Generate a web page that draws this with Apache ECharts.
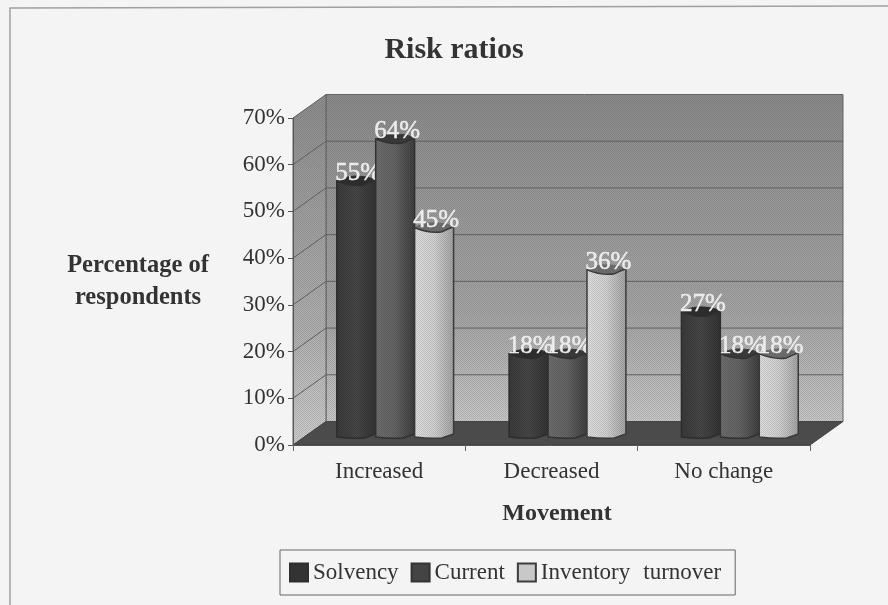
<!DOCTYPE html>
<html>
<head>
<meta charset="utf-8">
<style>
  html, body { margin: 0; padding: 0; background: #f4f4f4; }
  #chart { width: 888px; height: 605px; }
</style>
<script src="https://cdn.jsdelivr.net/npm/echarts@6/dist/echarts.min.js"></script>
</head>
<body>
<div id="chart"></div>
<script>
// Survey results: movement in risk ratios, drawn as a pseudo-3D column chart.
const categories = ['Increased', 'Decreased', 'No change'];
const solvency = [55, 18, 27];
const current = [64, 18, 18];
const inventoryTurnover = [45, 36, 18];
const yTicks = [0, 10, 20, 30, 40, 50, 60, 70];

const FONT = '"Liberation Serif", serif';
const INK = '#333333';
const DEPTH_X = 33;        // how far the back wall sits behind the axis plane
const DEPTH_Y = -23.5;
const BAR_SHIFT_X = 16;    // columns stand part-way into the floor
const BAR_SHIFT_Y = -7;
const BAR_BAND = 0.226;    // column width as a share of the category band

// Fine halftone used over the walls and columns.
function halftone(alpha) {
  const c = document.createElement('canvas');
  c.width = c.height = 2;
  const g = c.getContext('2d');
  g.fillStyle = 'rgba(0,0,0,' + alpha + ')';
  g.fillRect(0, 0, 1, 1);
  g.fillRect(1, 1, 1, 1);
  return c;
}
const dither = { image: halftone(0.12), repeat: 'repeat' };

function vertical(stops) {
  return { type: 'linear', x: 0, y: 0, x2: 0, y2: 1,
    colorStops: stops.map((color, i) => ({ offset: i / (stops.length - 1), color })) };
}
function horizontal(stops) {
  return { type: 'linear', x: 0, y: 0, x2: 1, y2: 0,
    colorStops: stops.map((color, i) => ({ offset: i / (stops.length - 1), color })) };
}

// Back wall, side wall, floor and the gridlines that wrap around them.
function renderWalls(params, api) {
  const cs = params.coordSys;
  const xL = cs.x, xR = cs.x + cs.width;
  const y0 = api.coord([0, yTicks[0]])[1];
  const yT = api.coord([0, yTicks[yTicks.length - 1]])[1];
  const back = [[xL + DEPTH_X, yT + DEPTH_Y], [xR + DEPTH_X, yT + DEPTH_Y], [xR + DEPTH_X, y0 + DEPTH_Y], [xL + DEPTH_X, y0 + DEPTH_Y]];
  const side = [[xL, yT], [xL + DEPTH_X, yT + DEPTH_Y], [xL + DEPTH_X, y0 + DEPTH_Y], [xL, y0]];
  const floor = [[xL, y0], [xL + DEPTH_X, y0 + DEPTH_Y], [xR + DEPTH_X, y0 + DEPTH_Y], [xR, y0]];
  const children = [
    { type: 'polygon', shape: { points: back }, style: { fill: vertical(['#8c8c8c', '#9a9a9a', '#a6a6a6', '#c8c8c8']), stroke: '#666', lineWidth: 1 } },
    { type: 'polygon', shape: { points: back }, style: { fill: dither } },
    { type: 'polygon', shape: { points: side }, style: { fill: vertical(['#8e8e8e', '#a0a0a0', '#b0b0b0', '#cecece']), stroke: '#666', lineWidth: 1 } },
    { type: 'polygon', shape: { points: side }, style: { fill: dither } }
  ];
  yTicks.forEach((t) => {
    const y = api.coord([0, t])[1];
    if (t > yTicks[0] && t < yTicks[yTicks.length - 1]) {
      children.push({ type: 'polyline',
        shape: { points: [[xL, y], [xL + DEPTH_X, y + DEPTH_Y], [xR + DEPTH_X, y + DEPTH_Y]] },
        style: { fill: null, stroke: '#5e5e5e', lineWidth: 1 } });
    }
  });
  children.push({ type: 'polygon', shape: { points: floor }, style: { fill: '#4b4b4b', stroke: '#444', lineWidth: 1 } });
  return { type: 'group', children };
}

// One column: rounded body, darker elliptical cap and the value above it.
function columnRenderer(index, body, capColor, edge) {
  return function (params, api) {
    const cat = api.value(0), val = api.value(1);
    const bw = api.size([1, 0])[0] * BAR_BAND;
    const c = api.coord([cat, val]);
    const base = api.coord([cat, 0]);
    const x0 = c[0] + BAR_SHIFT_X + (index - 1.5) * bw;
    const x1 = x0 + bw;
    const top = c[1] + BAR_SHIFT_Y;
    const bot = base[1] + BAR_SHIFT_Y;
    const a = x0 + 0.4 * bw, b = x0 + 0.7 * bw, d = x0 + 0.86 * bw;
    const outline =
      'M' + x0 + ' ' + top +
      'Q' + a + ' ' + (top + 6) + ' ' + b + ' ' + (top + 4) +
      'Q' + d + ' ' + (top + 1) + ' ' + x1 + ' ' + (top - 1) +
      'L' + x1 + ' ' + (bot - 4) +
      'Q' + d + ' ' + (bot - 2) + ' ' + b + ' ' + bot +
      'Q' + a + ' ' + (bot + 1) + ' ' + x0 + ' ' + (bot - 1) + 'Z';
    const cap =
      'M' + x0 + ' ' + top +
      'Q' + a + ' ' + (top + 6) + ' ' + b + ' ' + (top + 4) +
      'Q' + d + ' ' + (top + 1) + ' ' + x1 + ' ' + (top - 1) +
      'Q' + (x0 + 0.8 * bw) + ' ' + (top - 5) + ' ' + (x0 + 0.45 * bw) + ' ' + (top - 5) +
      'Q' + (x0 + 0.15 * bw) + ' ' + (top - 4) + ' ' + x0 + ' ' + top + 'Z';
    return { type: 'group', children: [
      { type: 'path', shape: { pathData: cap }, style: { fill: capColor, stroke: capColor, lineWidth: 1 } },
      { type: 'path', shape: { pathData: outline }, style: { fill: horizontal(body), stroke: edge, lineWidth: 1.5 } },
      { type: 'path', shape: { pathData: outline }, style: { fill: dither } },
      { type: 'text', z2: 50, style: {
          text: val + '%', x: (x0 + x1) / 2 + 2, y: top + 5,
          align: 'center', verticalAlign: 'bottom',
          font: '25px ' + FONT, fill: '#ececec', stroke: '#ececec', lineWidth: 0.5 } }
    ] };
  };
}

function columnSeries(name, values, index, swatch, body, capColor, edge) {
  return {
    name, type: 'custom', coordinateSystem: 'cartesian2d', clip: false, z: 3 + index,
    encode: { x: 0, y: 1 },
    itemStyle: { color: swatch, borderColor: edge, borderWidth: 1.5 },
    data: values.map((v, i) => [i, v]),
    renderItem: columnRenderer(index, body, capColor, edge)
  };
}

const chart = echarts.init(document.getElementById('chart'), null, { renderer: 'canvas' });
chart.setOption({
  animation: false,
  backgroundColor: '#f4f4f4',
  title: {
    text: 'Risk ratios', left: 449, top: 30, textAlign: 'center',
    textStyle: { fontFamily: FONT, fontWeight: 'bold', fontSize: 30, color: INK }
  },
  graphic: [{
    type: 'polyline', silent: true,
    shape: { points: [[10, 605], [10, 8], [888, 6]] },
    style: { fill: null, stroke: '#a0a0a0', lineWidth: 1.5 }
  }],
  grid: { left: 293, top: 118, width: 517, height: 327 },
  legend: {
    data: ['Solvency', 'Current', 'Inventory turnover'],
    left: 280, top: 550, orient: 'horizontal',
    padding: [11, 14, 11, 9], itemGap: 12, itemWidth: 18, itemHeight: 18,
    icon: 'rect', borderColor: '#666', borderWidth: 1,
    selectedMode: false,
    formatter: (name) => {
      const parts = name.split(' ');
      return parts.length > 1 ? '{t|' + parts[0] + '}{g| }{t|' + parts[1] + '}' : name;
    },
    textStyle: {
      fontFamily: FONT, fontSize: 23, color: INK,
      rich: {
        t: { fontFamily: FONT, fontSize: 23, color: INK },
        g: { fontFamily: FONT, fontSize: 23, width: 13 }
      }
    }
  },
  xAxis: {
    type: 'category', data: categories, z: 6,
    name: 'Movement', nameLocation: 'middle', nameGap: 57,
    nameTextStyle: { fontFamily: FONT, fontWeight: 'bold', fontSize: 24, color: INK, padding: [0, 0, 0, 11] },
    axisLine: { lineStyle: { color: '#555', width: 1 } },
    axisTick: { show: true, length: 6, alignWithLabel: false, lineStyle: { color: '#666' } },
    axisLabel: { fontFamily: FONT, fontSize: 23, color: INK, margin: 15 },
    splitLine: { show: false }
  },
  yAxis: {
    type: 'value', min: 0, max: 70, interval: 10, z: 6,
    name: 'Percentage of\nrespondents', nameLocation: 'middle', nameRotate: 0, nameGap: 155,
    nameMoveOverlap: false,
    nameTextStyle: { fontFamily: FONT, fontWeight: 'bold', fontSize: 24.5, color: INK, align: 'center', lineHeight: 32 },
    axisLine: { show: true, lineStyle: { color: '#555', width: 1 } },
    axisTick: { show: true, length: 5, lineStyle: { color: '#555' } },
    axisLabel: { formatter: '{value}%', fontFamily: FONT, fontSize: 23, color: INK, margin: 8 },
    splitLine: { show: false }
  },
  series: [
    { name: 'walls', type: 'custom', coordinateSystem: 'cartesian2d', clip: false, z: 1, silent: true,
      encode: { x: 0, y: 1 }, data: [[0, 0]], renderItem: renderWalls },
    columnSeries('Solvency', solvency, 0, '#333333', ['#3a3a3a', '#474747', '#333333'], '#2c2c2c', '#2f2f2f'),
    columnSeries('Current', current, 1, '#444444', ['#6e6e6e', '#646464', '#3e3e3e'], '#383838', '#333333'),
    columnSeries('Inventory turnover', inventoryTurnover, 2, '#c8c8c8', ['#e0e0e0', '#d2d2d2', '#a4a4a4'], '#6a6a6a', '#3c3c3c')
  ]
});
</script>
</body>
</html>
